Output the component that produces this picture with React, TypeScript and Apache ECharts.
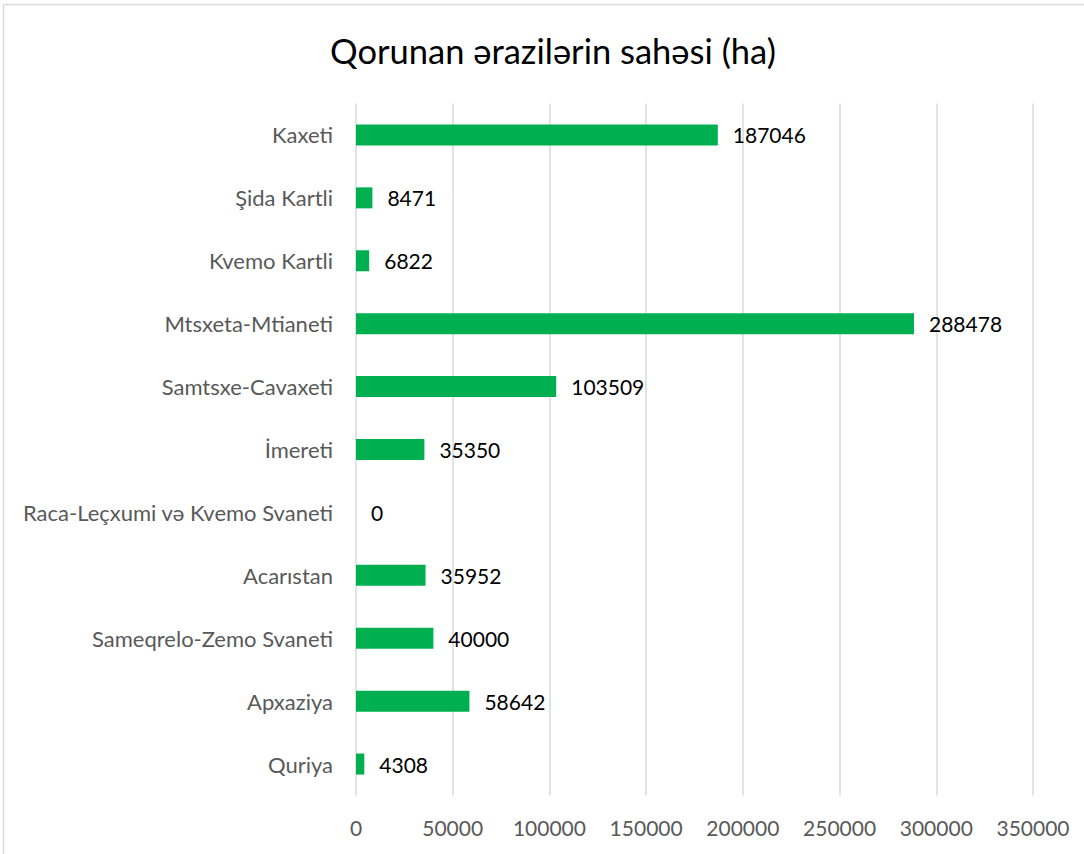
import React, { useEffect, useRef } from "react";
import * as echarts from "echarts";

const categories = [
  "Kaxeti",
  "Şida Kartli",
  "Kvemo Kartli",
  "Mtsxeta-Mtianeti",
  "Samtsxe-Cavaxeti",
  "İmereti",
  "Raca-Leçxumi və Kvemo Svaneti",
  "Acarıstan",
  "Sameqrelo-Zemo Svaneti",
  "Apxaziya",
  "Quriya",
];
const values = [187046, 8471, 6822, 288478, 103509, 35350, 0, 35952, 40000, 58642, 4308];
const title = "Qorunan ərazilərin sahəsi (ha)";
const FONT = "Lato, 'Open Sans', sans-serif";

export default function App() {
  const ref = useRef<HTMLDivElement>(null);
  useEffect(() => {
    const chart = echarts.init(ref.current!, null, { renderer: "svg" });
    chart.setOption({
      animation: false,
      backgroundColor: "#ffffff",
      title: {
        text: title,
        left: 325,
        top: 28,
        textStyle: { fontFamily: FONT, fontSize: 34.5, fontWeight: "normal", color: "#000000" },
      },
      graphic: [
        { type: "line", shape: { x1: 3.5, y1: 4.5, x2: 1084, y2: 4.5 }, style: { stroke: "#d9d9d9", lineWidth: 1.5 } },
        { type: "line", shape: { x1: 3.5, y1: 4.5, x2: 3.5, y2: 854 }, style: { stroke: "#d9d9d9", lineWidth: 1.5 } },
      ],
      grid: { left: 356, right: 51, top: 103.5, bottom: 58.5, containLabel: false },
      xAxis: {
        type: "value",
        min: 0,
        max: 350000,
        interval: 50000,
        axisLine: { show: false },
        axisTick: { show: false },
        splitLine: { show: true, lineStyle: { color: "#d9d9d9", width: 1.5 } },
        axisLabel: {
          fontFamily: FONT,
          fontSize: 21,
          color: "#595959",
          margin: 21,
          formatter: (v: number) => String(v),
        },
      },
      yAxis: {
        type: "category",
        data: categories,
        inverse: true,
        axisLine: { show: false },
        axisTick: { show: false },
        axisLabel: { fontFamily: FONT, fontSize: 22, color: "#595959", margin: 23 },
      },
      series: [
        {
          type: "bar",
          data: values,
          barWidth: 21,
          itemStyle: { color: "#00b050" },
          label: {
            show: true,
            position: "right",
            distance: 15,
            fontFamily: FONT,
            fontSize: 21,
            color: "#000000",
            formatter: (p: any) => String(p.value),
          },
        },
      ],
    });
    return () => chart.dispose();
  }, []);
  return (
    <div
      ref={ref}
      style={{ position: "absolute", left: 0, top: 0, width: 1084, height: 854 }}
    />
  );
}
